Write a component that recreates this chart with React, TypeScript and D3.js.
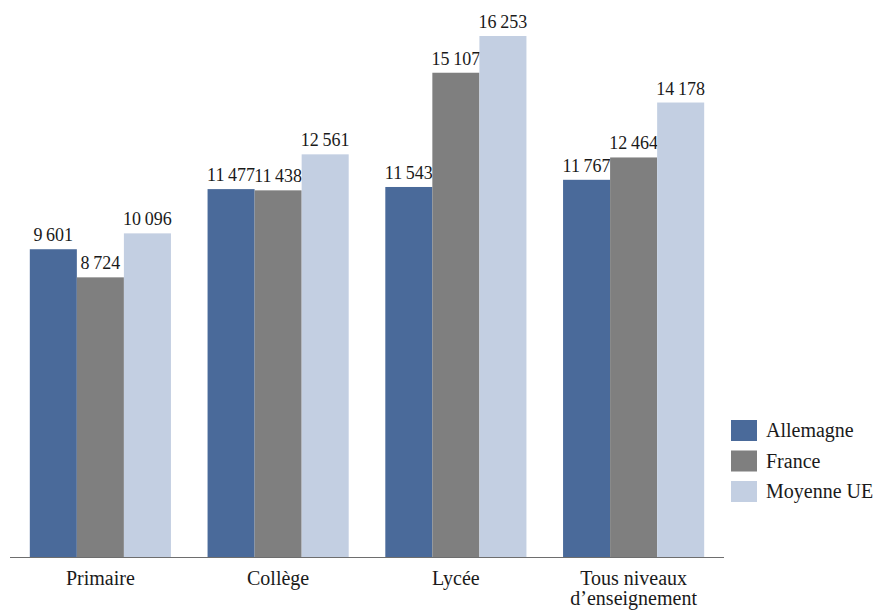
import React from "react";
import * as d3 from "d3";

const categories = ["Primaire", "Collège", "Lycée", "Tous niveaux|d’enseignement"];
const seriesNames = ["Allemagne", "France", "Moyenne UE"];
const allemagne = [9601, 11477, 11543, 11767];
const france = [8724, 11438, 15107, 12464];
const moyenneUE = [10096, 12561, 16253, 14178];
const colors = ["#4a6a9a", "#7f7f7f", "#c3cfe2"];

const W = 877;
const H = 610;
const FONT = "P052";

export default function App() {
  const series = [allemagne, france, moyenneUE];
  const x0 = d3.scaleBand<string>().domain(categories).range([11.5, 722.5]).paddingInner(0.206).paddingOuter(0.103);
  const x1 = d3.scaleBand<string>().domain(seriesNames).range([0, x0.bandwidth()]);
  const y = d3.scaleLinear().domain([0, 17000]).range([557, 557 - 17000 * (521 / 16253)]);
  const fmt = (v: number) => d3.format(",")(v).replace(/,/g, "\u2009");

  return (
    <svg width={W} height={H} style={{ position: "absolute", left: 0, top: 0 }}>
      <rect width={W} height={H} fill="#fff" />
      {categories.map((c, ci) => (
        <g key={c} transform={`translate(${x0(c)},0)`}>
          {seriesNames.map((s, si) => {
            const v = series[si][ci];
            const bx = x1(s)!;
            return (
              <g key={s}>
                <rect x={bx} y={y(v)} width={x1.bandwidth()} height={y(0) - y(v)} fill={colors[si]} />
                <text x={bx + x1.bandwidth() / 2} y={y(v) - 8} textAnchor="middle" fontSize={18} fontFamily={FONT} fill="#1a1a1a">
                  {fmt(v)}
                </text>
              </g>
            );
          })}
        </g>
      ))}
      <line x1={10} x2={724} y1={y(0) + 0.5} y2={y(0) + 0.5} stroke="#6e6e6e" strokeWidth={1.2} />
      {categories.map((c) => {
        const lines = c.split("|");
        const cx = x0(c)! + x0.bandwidth() / 2;
        return (
          <text key={c} x={cx} textAnchor="middle" fontSize={20} fontFamily={FONT} fill="#1a1a1a">
            {lines.map((l, i) => (
              <tspan key={i} x={cx} y={585 + i * 20}>{l}</tspan>
            ))}
          </text>
        );
      })}
      {seriesNames.map((s, i) => (
        <g key={s} transform={`translate(731,${420 + i * 30.5})`}>
          <rect width={26} height={21} fill={colors[i]} />
          <text x={35} y={17} fontSize={20} fontFamily={FONT} fill="#1a1a1a">{s}</text>
        </g>
      ))}
    </svg>
  );
}
